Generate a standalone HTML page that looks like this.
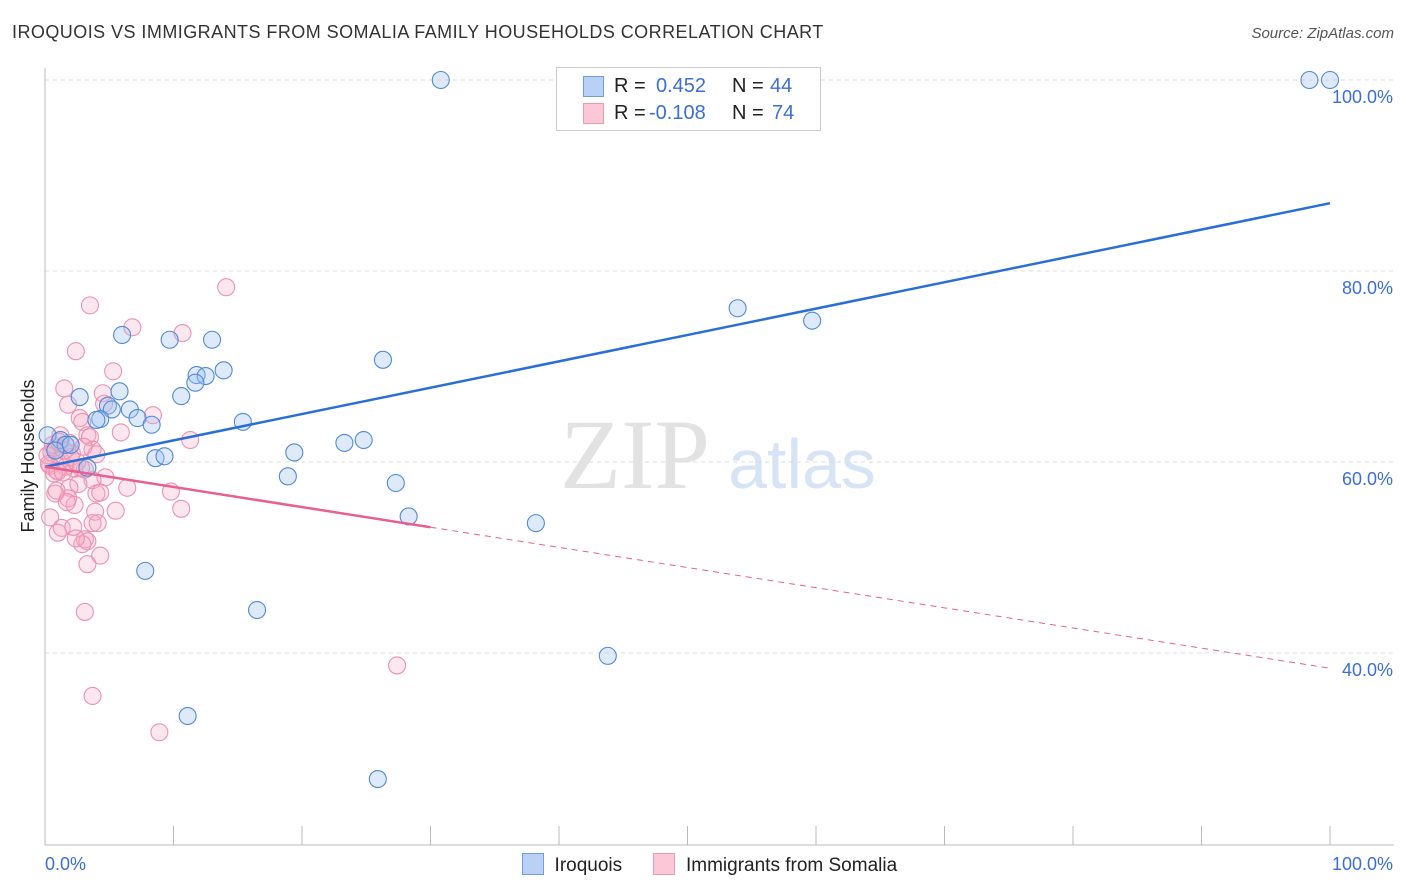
<!DOCTYPE html>
<html><head><meta charset="utf-8"><style>
body{margin:0;background:#fff;font-family:"Liberation Sans",sans-serif;}
#wrap{position:relative;width:1406px;height:892px;overflow:hidden;}
.t{position:absolute;white-space:nowrap;}
</style></head><body>
<div id="wrap">
<div class="t" style="left:12px;top:22px;font-size:18px;letter-spacing:0.45px;color:#333;">IROQUOIS VS IMMIGRANTS FROM SOMALIA FAMILY HOUSEHOLDS CORRELATION CHART</div>
<div class="t" style="right:12px;top:25px;font-size:15px;color:#555;font-style:italic;">Source: ZipAtlas.com</div>
<svg id="svg" width="1406" height="892" style="position:absolute;left:0;top:0"></svg>
</div>
<script>
const blueX=[30.8,98.4,100,53.9,59.7,6.0,9.7,13.0,26.3,13.9,11.8,12.5,11.7,5.8,10.6,2.7,4.9,5.2,6.6,7.2,4.3,4.0,8.3,15.4,0.2,1.2,1.6,2.0,24.8,23.3,19.4,8.6,9.3,3.3,18.9,27.3,28.3,38.2,7.8,16.5,43.8,11.1,25.9,0.8];
const blueY=[100,100,100,76.1,74.8,73.3,72.8,72.8,70.7,69.6,69.1,69.0,68.3,67.4,66.9,66.8,65.9,65.5,65.5,64.6,64.5,64.4,63.9,64.2,62.8,62.3,61.8,61.8,62.3,62.0,61.0,60.4,60.6,59.4,58.5,57.8,54.3,53.6,48.6,44.5,39.7,33.4,26.8,61.2];
const pinkX=[14.1,3.5,6.8,10.7,2.4,5.3,1.5,4.5,1.8,4.6,8.4,2.7,2.9,5.9,1.2,3.3,3.5,11.3,1.9,0.8,3.7,4.0,0.2,1.2,0.4,1.6,2.3,3.1,0.9,4.7,3.7,2.6,1.9,6.4,9.8,4.0,4.3,0.8,1.8,2.3,5.5,10.6,3.9,0.4,3.7,4.1,1.3,2.2,1.0,3.1,3.3,2.9,4.3,3.3,3.1,27.4,3.7,8.9,0.5,1.5,2.0,0.3,1.0,2.5,0.7,1.4,2.8,0.6,1.1,2.1,3.0,0.9,1.7,2.4];
const pinkY=[78.3,76.4,74.1,73.5,71.6,69.5,67.7,67.2,66.0,66.1,64.9,64.6,64.2,63.1,62.8,62.8,62.6,62.3,62.0,61.5,61.3,60.8,60.7,60.2,59.6,59.5,59.3,59.2,59.1,58.4,58.1,57.7,57.3,57.3,56.9,56.7,56.8,56.7,56.2,55.5,54.9,55.1,54.8,54.2,53.6,53.6,53.1,53.2,52.6,51.9,51.7,51.4,50.2,49.3,44.3,38.7,35.5,31.7,61.0,61.2,60.5,59.8,59.0,60.0,58.8,58.9,59.4,61.8,62.1,60.9,61.6,57.0,55.8,52.0];
const xTicks=[0,10,20,30,40,50,60,70,80,90,100];
const yTicks=[40,60,80,100];
const blueLine=[59.5,87.1];
const pinkLine=[59.5,38.4];
const pinkSolidEnd=30;
const L=45,R=1330,T=80,B=845;
const X=v=>L+(R-L)*v/100;
const Y=v=>T+(100-v)*9.55;
const s=document.getElementById('svg');const NS='http://www.w3.org/2000/svg';
function mk(tag,a,p){const e=document.createElementNS(NS,tag);for(const k in a)e.setAttribute(k,a[k]);(p||s).appendChild(e);return e;}
let w=mk('text',{x:635,y:488,'font-size':100,'font-family':'Liberation Serif',fill:'#e2e2e2','text-anchor':'middle'});w.textContent='ZIP';


w=mk('text',{x:802,y:488,'font-size':70,'font-family':'Liberation Sans',fill:'#d6e4f6','text-anchor':'middle'});w.textContent='atlas';


yTicks.forEach(v=>{const g=mk('line',{x1:L,x2:1394,y1:Y(v),y2:Y(v),stroke:'#ddd','stroke-dasharray':'4,4'});


const t=mk('text',{x:1393,y:Y(v)+23,'font-size':18,fill:'#3b6fd4','text-anchor':'end'});t.textContent=v.toFixed(1)+'%';

});
let a=mk('line',{x1:L,x2:L,y1:68,y2:B,stroke:'#bbb'});
a=mk('line',{x1:L,x2:1394,y1:B,y2:B,stroke:'#bbb'});
xTicks.forEach(v=>{const k=mk('line',{x1:X(v),x2:X(v),y1:826,y2:B,stroke:'#bbb'});});
let t=mk('text',{x:45,y:870,'font-size':18,fill:'#3b6fd4'});t.textContent=xTicks[0].toFixed(1)+'%';
t=mk('text',{x:1393,y:870,'font-size':18,fill:'#3b6fd4','text-anchor':'end'});t.textContent=xTicks[10].toFixed(1)+'%';
t=mk('text',{x:34,y:456,'font-size':18,fill:'#222','text-anchor':'middle',transform:'rotate(-90 34 456)'});t.textContent='Family Households';
function pts(xs,ys,fill,stroke,name){xs.forEach((x,i)=>{const c=mk('circle',{cx:X(x),cy:Y(ys[i]),r:8.5,fill:fill,stroke:stroke,'stroke-width':1.1});

});}
pts(pinkX,pinkY,'rgba(248,170,195,0.28)','#ec92b0','somalia-point');
pts(blueX,blueY,'rgba(160,195,240,0.35)','#4f8ad9','iroquois-point');
let ln=mk('line',{x1:X(0),y1:Y(blueLine[0]),x2:X(100),y2:Y(blueLine[1]),stroke:'#2a6fd6','stroke-width':2.5});

const py=x=>pinkLine[0]+(pinkLine[1]-pinkLine[0])*x/100;
ln=mk('line',{x1:X(0),y1:Y(py(0)),x2:X(pinkSolidEnd),y2:Y(py(pinkSolidEnd)),stroke:'#e8608f','stroke-width':2.5});

ln=mk('line',{x1:X(pinkSolidEnd),y1:Y(py(pinkSolidEnd)),x2:X(100),y2:Y(py(100)),stroke:'#e8608f','stroke-width':1,'stroke-dasharray':'6,5'});

</script>
<div class="t" style="left:556px;top:67px;width:263px;height:62px;border:1px solid #ccc;background:#fff;font-size:20px;">
<div style="position:absolute;left:26px;top:8px;width:19px;height:19px;background:#b8d1f5;border:1px solid #6f9be0"></div>
<div class="t" style="left:57px;top:7px;color:#222">R = </div><div class="t" style="left:99px;top:7px;color:#3b6fd4">0.452</div>
<div class="t" style="left:175px;top:7px;color:#222">N = </div><div class="t" style="left:213px;top:7px;color:#3b6fd4">44</div>
<div style="position:absolute;left:26px;top:35px;width:19px;height:19px;background:#fcc8d7;border:1px solid #ec9ab4"></div>
<div class="t" style="left:57px;top:34px;color:#222">R = </div><div class="t" style="left:92px;top:34px;color:#3b6fd4">-0.108</div>
<div class="t" style="left:175px;top:34px;color:#222">N = </div><div class="t" style="left:215px;top:34px;color:#3b6fd4">74</div>
</div>
<div class="t" style="left:522px;top:853px;font-size:19px;color:#222">
<span style="display:inline-block;width:20px;height:20px;background:#b8d1f5;border:1px solid #6f9be0;vertical-align:-4px"></span>&nbsp;&nbsp;Iroquois
<span style="display:inline-block;width:20px;height:20px;background:#fcc8d7;border:1px solid #ec9ab4;vertical-align:-4px;margin-left:26px"></span>&nbsp;&nbsp;Immigrants from Somalia
</div>
</body></html>
